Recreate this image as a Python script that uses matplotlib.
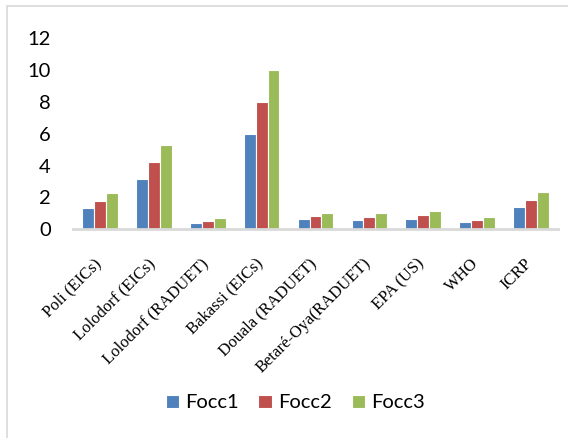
import matplotlib
matplotlib.use("Agg")
import matplotlib.pyplot as plt
from matplotlib.patches import Rectangle
from matplotlib.transforms import ScaledTranslation
import numpy as np

categories = ["Poli (EICs)", "Lolodorf (EICs)", "Lolodorf (RADUET)", "Bakassi (EICs)",
              "Douala (RADUET)", "Betaré-Oya(RADUET)", "EPA (US)", "WHO", "ICRP"]
focc1 = [1.32, 3.18, 0.40, 6.0, 0.63, 0.58, 0.65, 0.46, 1.38]
focc2 = [1.80, 4.25, 0.54, 8.0, 0.84, 0.79, 0.90, 0.58, 1.84]
focc3 = [2.26, 5.32, 0.69, 10.0, 1.04, 1.00, 1.13, 0.75, 2.33]
series = [("Focc1", focc1, "#4F81BD"), ("Focc2", focc2, "#C0504D"), ("Focc3", focc3, "#9BBB59")]
yticks = [0, 2, 4, 6, 8, 10, 12]

sans = "Lato"
serif = "Liberation Serif"

fig = plt.figure(figsize=(5.68, 4.38), dpi=100)
fig.patch.set_facecolor("white")

# chart-area frame
fig.patches.append(Rectangle((7 / 568, -0.05), 1.2, (438 - 6) / 438 + 0.05,
                             transform=fig.transFigure, fill=False,
                             edgecolor="#d9d9d9", linewidth=1.2, zorder=0))

ax = fig.add_axes([73 / 568, (438 - 229.3) / 438, (558 - 73) / 568, (229.3 - 38.3) / 438])

x = np.arange(len(categories))
w = 0.22
for i, (name, vals, col) in enumerate(series):
    ax.bar(x + (i - 1) * w, vals, width=w, color=col, edgecolor="white",
           linewidth=0.8, label=name, zorder=2)

ax.set_xlim(-0.5, len(categories) - 0.5)
ax.set_ylim(0, 12)
ax.set_yticks(yticks)
ax.set_yticklabels([str(t) for t in yticks], fontfamily=sans, fontsize=14.5)
ax.tick_params(axis="y", length=0, pad=16)
ax.set_xticks(x)
ax.set_xticklabels(categories, rotation=45, ha="right", va="top",
                   rotation_mode="anchor", fontfamily=serif, fontsize=12)
ax.tick_params(axis="x", length=0, pad=8)
shift = ScaledTranslation(-0.07, -0.15, fig.dpi_scale_trans)
for lbl in ax.get_xticklabels():
    lbl.set_transform(lbl.get_transform() + shift)

for s in ["top", "right", "left"]:
    ax.spines[s].set_visible(False)
ax.spines["bottom"].set_color("#d9d9d9")
ax.spines["bottom"].set_linewidth(2)
ax.spines["bottom"].set_zorder(3)

fig.legend(loc="center", bbox_to_anchor=(295 / 568, 1 - 403 / 438), ncol=3,
           frameon=False, prop={"family": sans, "size": 14.5},
           handlelength=0.65, handleheight=0.65, handletextpad=0.3, columnspacing=1.0)

fig.savefig("out.png", dpi=100)
